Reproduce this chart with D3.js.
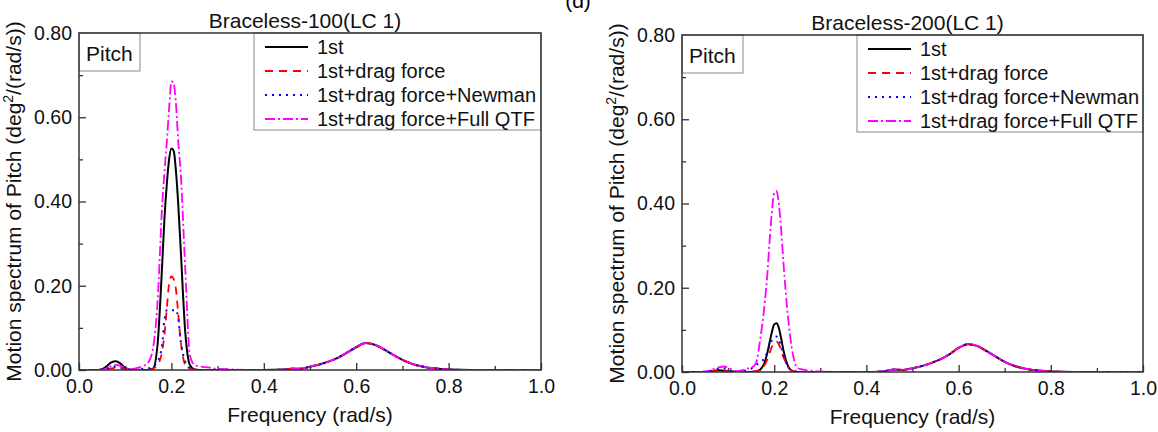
<!DOCTYPE html>
<html>
<head>
<meta charset="utf-8">
<script src="https://cdn.jsdelivr.net/npm/d3@7"></script>
<style>
  body { margin: 0; background: #fff; }
  svg { display: block; font-family: "Liberation Sans", Arial, sans-serif; }
</style>
</head>
<body>
<svg id="chart" width="1158" height="432"></svg>
<script>
"use strict";

// frequency grid (rad/s), shared by every series
var freq = [0, 0.04, 0.05, 0.06, 0.07, 0.08, 0.09, 0.10, 0.11, 0.12,
	0.13, 0.14, 0.15, 0.16, 0.17, 0.18, 0.185, 0.19, 0.195, 0.20,
	0.205, 0.21, 0.215, 0.22, 0.23, 0.24, 0.25, 0.26, 0.28, 0.30,
	0.40, 0.44, 0.46, 0.48, 0.50, 0.52, 0.54, 0.56, 0.58, 0.60,
	0.62, 0.64, 0.66, 0.68, 0.70, 0.72, 0.74, 0.76, 0.78, 0.80,
	0.85, 1.00];

// Braceless-100 (LC 1)
var left1st = [0, 0, 0.002, 0.009, 0.018, 0.021, 0.015, 0.005, 0.001, 0,
	0, 0, 0, 0.003, 0.06, 0.25, 0.36, 0.44, 0.50, 0.526,
	0.52, 0.47, 0.39, 0.29, 0.09, 0.012, 0.001, 0, 0, 0,
	0, 0.001, 0.003, 0.003, 0.008, 0.013, 0.020, 0.029, 0.041, 0.054,
	0.064, 0.060, 0.049, 0.036, 0.024, 0.015, 0.009, 0.005, 0.003, 0.001,
	0, 0];
var leftDrag = [0, 0, 0.001, 0.002, 0.004, 0.005, 0.004, 0.002, 0.001, 0.001,
	0.001, 0.001, 0.001, 0.003, 0.012, 0.045, 0.085, 0.145, 0.205, 0.222,
	0.216, 0.19, 0.13, 0.07, 0.012, 0.003, 0.001, 0, 0, 0,
	0, 0.001, 0.003, 0.003, 0.008, 0.013, 0.020, 0.029, 0.041, 0.054,
	0.064, 0.060, 0.049, 0.036, 0.024, 0.015, 0.009, 0.005, 0.003, 0.001,
	0, 0];
var leftNewman = [0, 0, 0.001, 0.004, 0.007, 0.008, 0.006, 0.003, 0.001, 0.001,
	0.002, 0.003, 0.004, 0.008, 0.02, 0.06, 0.12, 0.142, 0.144, 0.143,
	0.142, 0.143, 0.12, 0.07, 0.02, 0.004, 0.001, 0, 0, 0,
	0, 0.001, 0.003, 0.003, 0.008, 0.013, 0.020, 0.029, 0.041, 0.054,
	0.064, 0.060, 0.049, 0.036, 0.024, 0.015, 0.009, 0.005, 0.003, 0.001,
	0, 0];
var leftFullQtf = [0, 0, 0.001, 0.004, 0.009, 0.012, 0.010, 0.005, 0.002, 0.003,
	0.006, 0.010, 0.018, 0.05, 0.16, 0.39, 0.47, 0.54, 0.62, 0.685,
	0.68, 0.63, 0.54, 0.47, 0.24, 0.035, 0.012, 0.009, 0.006, 0.003,
	0, 0.001, 0.003, 0.003, 0.008, 0.013, 0.020, 0.029, 0.041, 0.054,
	0.064, 0.060, 0.049, 0.036, 0.024, 0.015, 0.009, 0.005, 0.003, 0.001,
	0, 0];

// Braceless-200 (LC 1)
var right1st = [0, 0, 0, 0.001, 0.003, 0.004, 0.003, 0.002, 0.001, 0,
	0, 0, 0, 0.001, 0.006, 0.025, 0.045, 0.07, 0.095, 0.113,
	0.116, 0.105, 0.08, 0.052, 0.014, 0.002, 0, 0, 0, 0,
	0, 0.002, 0.006, 0.005, 0.009, 0.014, 0.021, 0.030, 0.042, 0.057,
	0.066, 0.062, 0.050, 0.037, 0.024, 0.015, 0.009, 0.005, 0.003, 0.001,
	0, 0];
var rightDrag = [0, 0, 0, 0.001, 0.003, 0.004, 0.004, 0.003, 0.001, 0.001,
	0.001, 0.001, 0.001, 0.002, 0.006, 0.018, 0.03, 0.045, 0.06, 0.07,
	0.072, 0.066, 0.052, 0.036, 0.012, 0.003, 0.001, 0, 0, 0,
	0, 0.002, 0.006, 0.005, 0.009, 0.014, 0.021, 0.030, 0.042, 0.057,
	0.066, 0.062, 0.050, 0.037, 0.024, 0.015, 0.009, 0.005, 0.003, 0.001,
	0, 0];
var rightNewman = [0, 0, 0.001, 0.002, 0.005, 0.008, 0.009, 0.006, 0.002, 0.001,
	0.002, 0.004, 0.008, 0.016, 0.024, 0.034, 0.047, 0.062, 0.075, 0.082,
	0.084, 0.077, 0.06, 0.04, 0.013, 0.003, 0.001, 0, 0, 0,
	0, 0.002, 0.006, 0.005, 0.009, 0.014, 0.021, 0.030, 0.042, 0.057,
	0.066, 0.062, 0.050, 0.037, 0.024, 0.015, 0.009, 0.005, 0.003, 0.001,
	0, 0];
var rightFullQtf = [0, 0, 0.001, 0.004, 0.008, 0.011, 0.013, 0.011, 0.005, 0.002,
	0.004, 0.008, 0.010, 0.02, 0.08, 0.17, 0.23, 0.31, 0.38, 0.425,
	0.43, 0.40, 0.34, 0.26, 0.13, 0.045, 0.010, 0.006, 0.003, 0.001,
	0, 0.002, 0.006, 0.005, 0.009, 0.014, 0.021, 0.030, 0.042, 0.057,
	0.066, 0.062, 0.050, 0.037, 0.024, 0.015, 0.009, 0.005, 0.003, 0.001,
	0, 0];

var seriesNames = ["1st", "1st+drag force", "1st+drag force+Newman", "1st+drag force+Full QTF"];
var panelTitles = ["Braceless-100(LC 1)", "Braceless-200(LC 1)"];
var xTicks = [0, 0.2, 0.4, 0.6, 0.8, 1.0];
var xMinorTicks = [0.1, 0.3, 0.5, 0.7, 0.9];
var yTicks = [0, 0.2, 0.4, 0.6, 0.8];
var yMinorTicks = [0.1, 0.3, 0.5, 0.7];

var lineStyles = [
	{ color: "#000000", dash: null, width: 2 },
	{ color: "#ff0000", dash: "8,6", width: 1.8 },
	{ color: "#0000ff", dash: "2,5", width: 2 },
	{ color: "#ff00ff", dash: "10,3,2,3", width: 1.8 }
];

var svg = d3.select("#chart");
var axisColor = "#333";

// panel label, cut at the top edge as in the source figure
svg.append("text")
	.attr("x", 578)
	.attr("y", 8)
	.attr("text-anchor", "middle")
	.attr("font-size", "21px")
	.text("(d)");

var drawPanel = function(p, idx) {
	var x = d3.scaleLinear().domain([0, 1]).range([p.left, p.right]);
	var y = d3.scaleLinear().domain([0, 0.8]).range([p.bottom, p.top]);
	var g = svg.append("g");

	g.append("clipPath").attr("id", "clip" + idx)
		.append("rect")
		.attr("x", p.left).attr("y", p.top)
		.attr("width", p.right - p.left).attr("height", p.bottom - p.top);

	var line = d3.line()
		.x(function(d) { return x(d[0]); })
		.y(function(d) { return y(d[1]); })
		.curve(d3.curveMonotoneX);

	var curves = g.append("g").attr("clip-path", "url(#clip" + idx + ")");
	p.series.forEach(function(vals, i) {
		var st = lineStyles[i];
		curves.append("path")
			.datum(freq.map(function(f, k) { return [f, vals[k]]; }))
			.attr("fill", "none")
			.attr("stroke", st.color)
			.attr("stroke-width", st.width)
			.attr("stroke-dasharray", st.dash)
			.attr("d", line);
	});

	// axes with inward ticks
	g.append("g")
		.attr("transform", "translate(0," + p.bottom + ")")
		.call(d3.axisBottom(x).tickValues(xTicks).tickSize(-7).tickPadding(9).tickFormat(d3.format(".1f")));
	g.append("g")
		.attr("transform", "translate(0," + p.bottom + ")")
		.call(d3.axisBottom(x).tickValues(xMinorTicks).tickSize(-4).tickFormat(""));
	g.append("g")
		.attr("transform", "translate(" + p.left + ",0)")
		.call(d3.axisLeft(y).tickValues(yTicks).tickSize(-7).tickPadding(7).tickFormat(d3.format(".2f")));
	g.append("g")
		.attr("transform", "translate(" + p.left + ",0)")
		.call(d3.axisLeft(y).tickValues(yMinorTicks).tickSize(-4).tickFormat(""));

	g.selectAll(".domain").remove();
	g.selectAll(".tick line").attr("stroke", axisColor).attr("stroke-width", 1.3);
	g.selectAll(".tick text").attr("font-size", "19.5px").attr("fill", "#111")
		.attr("font-family", "Liberation Sans, Arial, sans-serif");

	// "Pitch" tag
	g.append("rect")
		.attr("x", p.left).attr("y", p.top)
		.attr("width", 61).attr("height", 38)
		.attr("fill", "#fff").attr("stroke", "#888").attr("stroke-width", 1);
	g.append("text")
		.attr("x", p.left + 7).attr("y", p.top + 28)
		.attr("font-size", "21px").attr("fill", "#111")
		.text("Pitch");

	// legend
	var lg = g.append("g").attr("transform", "translate(" + (p.left + 175) + "," + p.top + ")");
	lg.append("rect")
		.attr("width", p.right - p.left - 175).attr("height", 97)
		.attr("fill", "#fff").attr("stroke", "#888").attr("stroke-width", 1);
	seriesNames.forEach(function(name, i) {
		var st = lineStyles[i];
		var ry = 14 + i * 24;
		lg.append("line")
			.attr("x1", 11).attr("x2", 54)
			.attr("y1", ry).attr("y2", ry)
			.attr("stroke", st.color)
			.attr("stroke-width", st.width)
			.attr("stroke-dasharray", st.dash);
		lg.append("text")
			.attr("x", 63).attr("y", ry + 7)
			.attr("font-size", "20px").attr("fill", "#111")
			.text(name);
	});

	// frame on top
	g.append("rect")
		.attr("x", p.left).attr("y", p.top)
		.attr("width", p.right - p.left).attr("height", p.bottom - p.top)
		.attr("fill", "none")
		.attr("stroke", axisColor)
		.attr("stroke-width", 1.5);

	// titles
	g.append("text")
		.attr("x", (p.left + p.right) / 2 - 5).attr("y", p.top - 5)
		.attr("text-anchor", "middle")
		.attr("font-size", "21px").attr("fill", "#111")
		.text(panelTitles[idx]);
	g.append("text")
		.attr("x", (p.left + p.right) / 2).attr("y", p.bottom + 52)
		.attr("text-anchor", "middle")
		.attr("font-size", "21px").attr("fill", "#111")
		.text("Frequency (rad/s)");

	var yl = g.append("text")
		.attr("transform", "translate(" + (p.left - 58) + "," + ((p.top + p.bottom) / 2) + ") rotate(-90)")
		.attr("text-anchor", "middle")
		.attr("font-size", "21px").attr("fill", "#111");
	yl.append("tspan").text("Motion spectrum of Pitch (deg");
	yl.append("tspan").attr("font-size", "14px").attr("baseline-shift", "super").text("2");
	yl.append("tspan").text("/(rad/s))");
};

var panels = [
	{ left: 79, right: 541, top: 33, bottom: 370, series: [left1st, leftDrag, leftNewman, leftFullQtf] },
	{ left: 682, right: 1143, top: 35, bottom: 372, series: [right1st, rightDrag, rightNewman, rightFullQtf] }
];

panels.forEach(drawPanel);
</script>
</body>
</html>
